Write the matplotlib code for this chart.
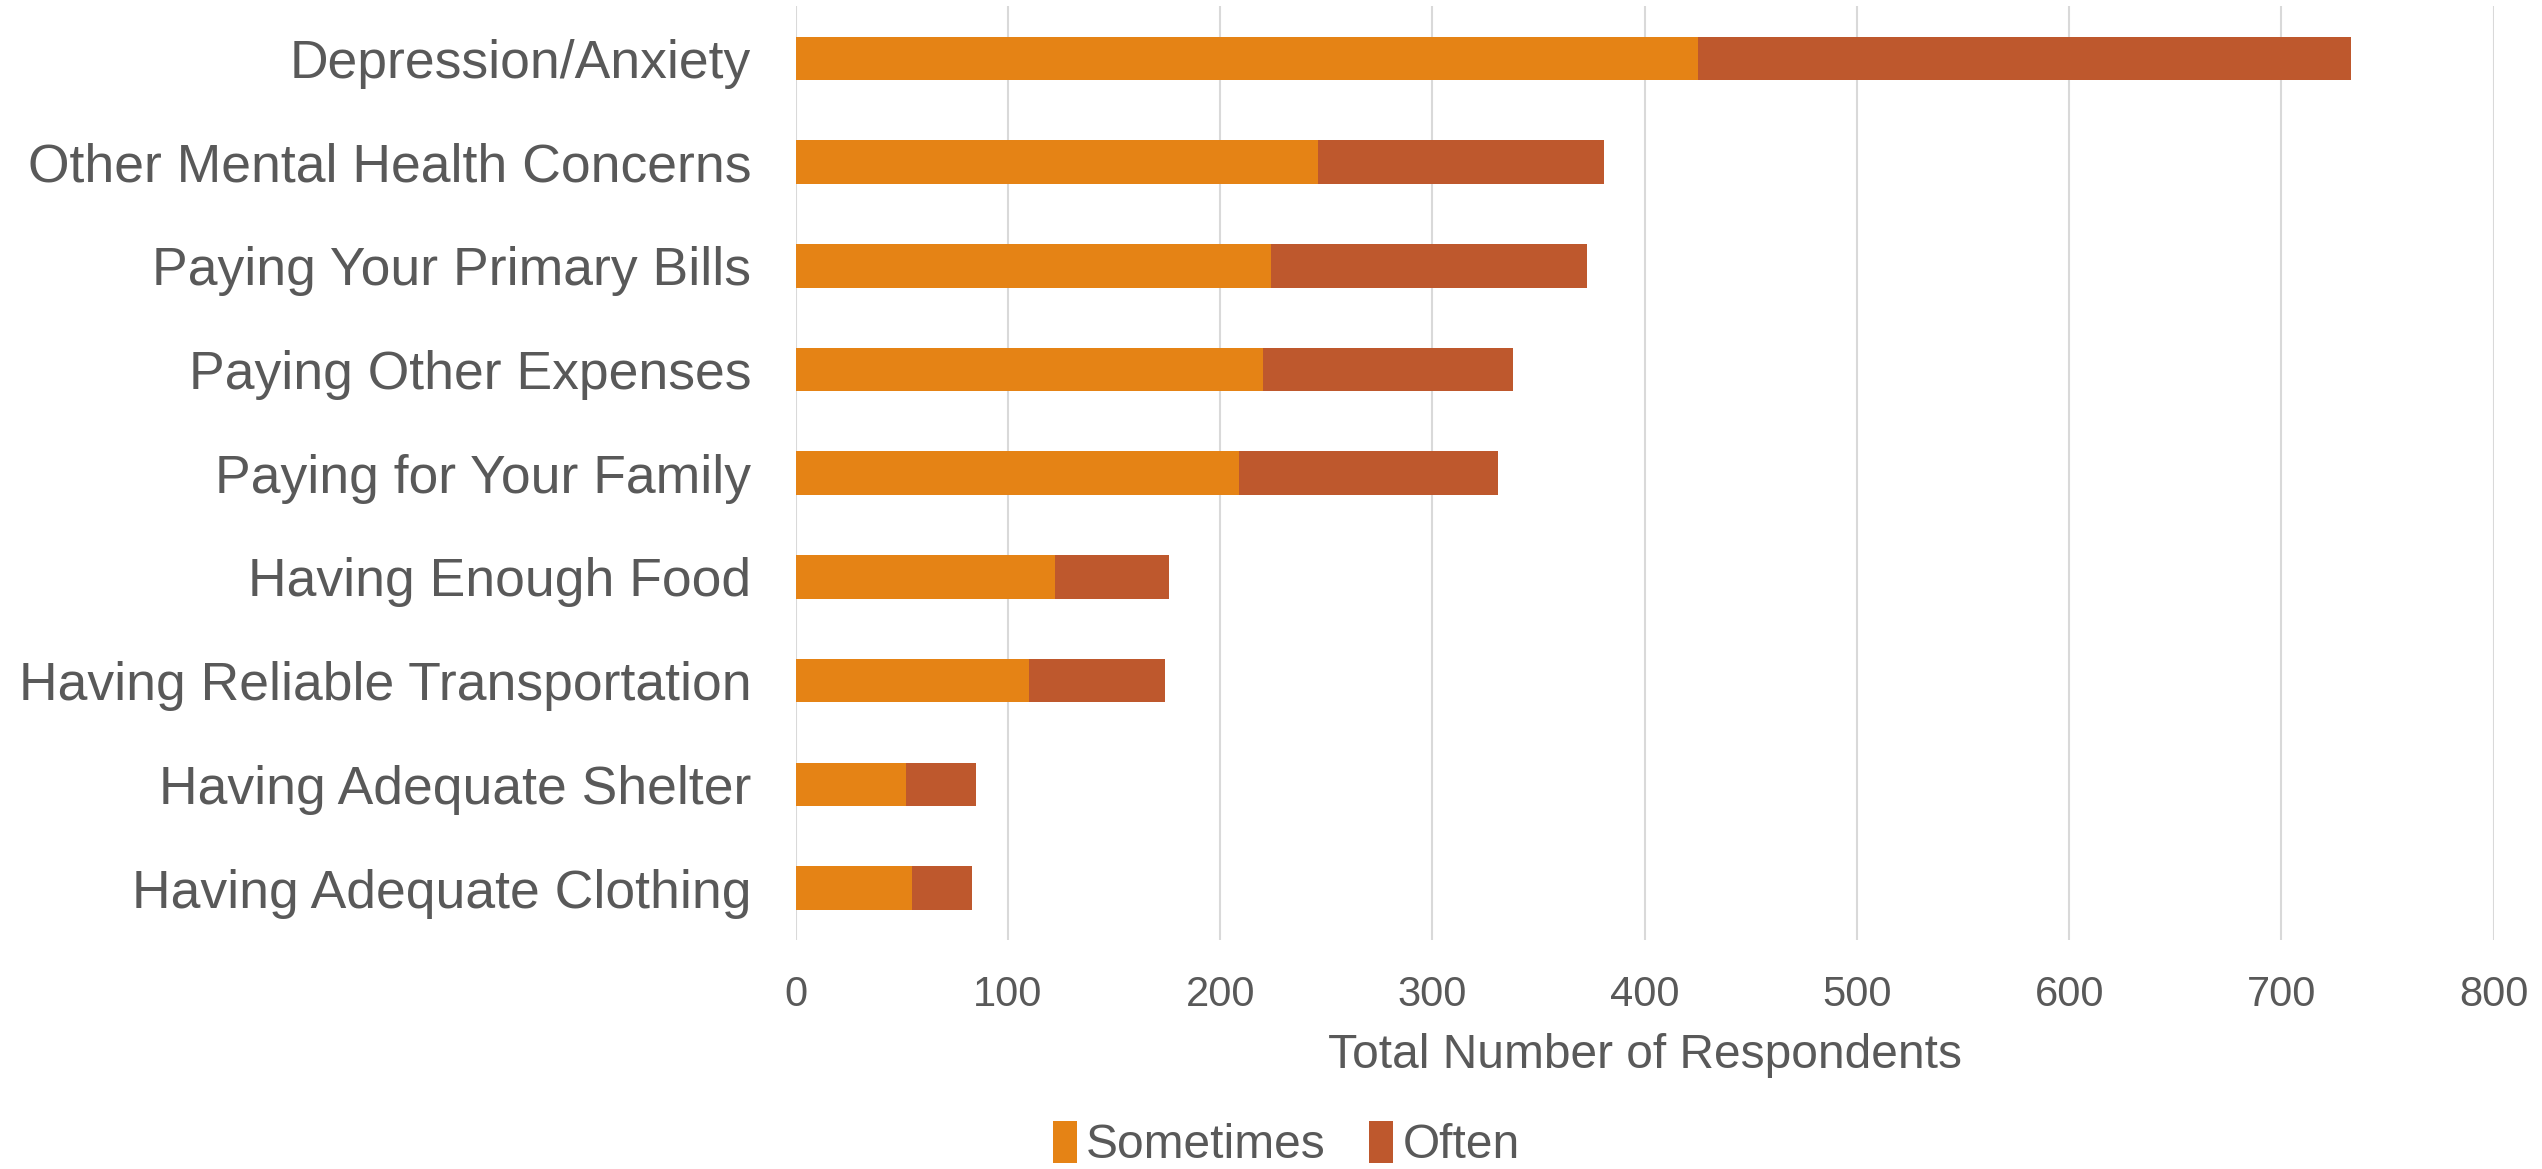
import matplotlib
matplotlib.use("Agg")
import matplotlib.pyplot as plt
import numpy as np

plt.rcParams['font.family'] = ['Liberation Sans', 'DejaVu Sans']

categories = ['Depression/Anxiety', 'Other Mental Health Concerns', 'Paying Your Primary Bills',
              'Paying Other Expenses', 'Paying for Your Family', 'Having Enough Food',
              'Having Reliable Transportation', 'Having Adequate Shelter', 'Having Adequate Clothing']
sometimes = [425, 246, 224, 220, 209, 122, 110, 52, 55]
often = [308, 135, 149, 118, 122, 54, 64, 33, 28]
xticks = [0, 100, 200, 300, 400, 500, 600, 700, 800]

text_color = '#595959'
col_sometimes = '#E58315'
col_often = '#BE582D'

fig = plt.figure(figsize=(25.42, 11.69), dpi=100)
ax = fig.add_axes([0.313, 0.196, 0.668, 0.7985])

y = np.arange(len(categories))
height = 0.42
ax.barh(y, sometimes, height, color=col_sometimes, label='Sometimes', zorder=3)
ax.barh(y, often, height, left=sometimes, color=col_often, label='Often', zorder=3)

ax.set_ylim(len(categories) - 0.5, -0.5)
ax.set_xlim(0, 800)
ax.set_xticks(xticks)
ax.set_yticks(y)
ax.set_yticklabels(categories, fontsize=38.5, color=text_color)
ax.tick_params(axis='x', labelsize=30, labelcolor=text_color, length=0, pad=25)
ax.tick_params(axis='y', length=0, pad=32)

ax.grid(axis='x', color='#D9D9D9', linewidth=1.5, zorder=0)
for s in ax.spines.values():
    s.set_visible(False)

ax.set_xlabel('Total Number of Respondents', fontsize=34.5, color=text_color, labelpad=13)

leg = fig.legend(loc='center', bbox_to_anchor=(0.506, 0.021), ncol=2, frameon=False,
                 fontsize=34.5, handlelength=0.5, handleheight=1.0, handletextpad=0.2,
                 columnspacing=0.9)
for t in leg.get_texts():
    t.set_color(text_color)

fig.savefig('out.png', dpi=100)
